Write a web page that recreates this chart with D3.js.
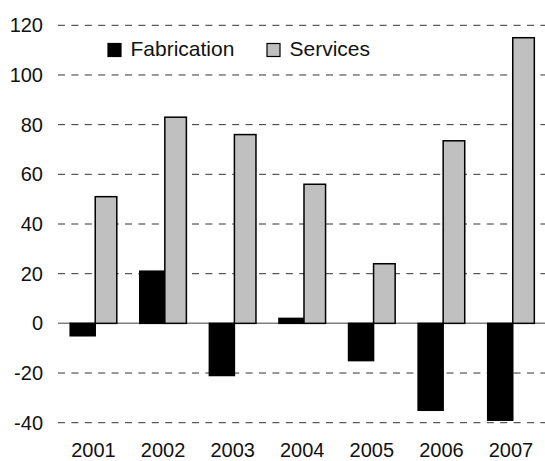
<!DOCTYPE html>
<html>
<head>
<meta charset="utf-8">
<script src="https://cdn.jsdelivr.net/npm/d3@7"></script>
<style>
  html, body { margin: 0; padding: 0; background: #fff; }
  svg { display: block; font-family: "Liberation Sans", Arial, sans-serif; }
</style>
</head>
<body>
<svg id="chart" width="545" height="461"></svg>
<script>
const years = ["2001", "2002", "2003", "2004", "2005", "2006", "2007"];
const fabrication = [-5, 21, -21, 2, -15, -35, -39];
const services = [51, 83, 76, 56, 24, 73.5, 115];
const yTicks = [-40, -20, 0, 20, 40, 60, 80, 100, 120];
const seriesNames = ["Fabrication", "Services"];
const seriesColors = ["#000000", "#c0c0c0"];

const svg = d3.select("#chart");
const W = 545, H = 461;

const x = d3.scaleBand().domain(years).range([58.7, 545.8]).padding(0);
const y = d3.scaleLinear().domain([-40, 120]).range([422.7, 25.3]);
const step = x.step();
const fabOff = step * 0.165, fabW = step * 0.36, srvW = step * 0.31;

// gridlines
svg.append("g").selectAll("line").data(yTicks.filter(d => d !== 0)).join("line")
  .attr("x1", 58).attr("x2", W)
  .attr("y1", d => y(d)).attr("y2", d => y(d))
  .attr("stroke", "#333").attr("stroke-width", 1)
  .attr("stroke-dasharray", "7,6.4");

// zero line
svg.append("line")
  .attr("x1", 58).attr("x2", W)
  .attr("y1", y(0)).attr("y2", y(0))
  .attr("stroke", "#808080").attr("stroke-width", 1.5);

// y tick labels
svg.append("g").selectAll("text").data(yTicks).join("text")
  .attr("x", 43).attr("y", d => y(d)).attr("dy", "0.35em")
  .attr("text-anchor", "end").attr("font-size", 20).attr("fill", "#111")
  .text(d => d);

// x labels
svg.append("g").selectAll("text").data(years).join("text")
  .attr("x", d => x(d) + fabOff + (fabW + srvW) / 2).attr("y", 456.5)
  .attr("text-anchor", "middle").attr("font-size", 20).attr("fill", "#111")
  .text(d => d);

// bars
const bars = svg.append("g");
bars.selectAll("rect.fab").data(years).join("rect").attr("class", "fab")
  .attr("x", d => x(d) + fabOff)
  .attr("width", fabW)
  .attr("y", (d, i) => y(Math.max(0, fabrication[i])))
  .attr("height", (d, i) => Math.abs(y(fabrication[i]) - y(0)))
  .attr("fill", seriesColors[0]).attr("stroke", "#000").attr("stroke-width", 1.5);
bars.selectAll("rect.srv").data(years).join("rect").attr("class", "srv")
  .attr("x", d => x(d) + fabOff + fabW)
  .attr("width", srvW)
  .attr("y", (d, i) => y(Math.max(0, services[i])))
  .attr("height", (d, i) => Math.abs(y(services[i]) - y(0)))
  .attr("fill", seriesColors[1]).attr("stroke", "#000").attr("stroke-width", 1.5);

// legend
const legendX = [108, 267];
const lg = svg.append("g");
seriesNames.forEach((name, i) => {
  lg.append("rect").attr("x", legendX[i]).attr("y", 43.5).attr("width", 13).attr("height", 13)
    .attr("fill", seriesColors[i]).attr("stroke", "#000").attr("stroke-width", 1.2);
  lg.append("text").attr("x", legendX[i] + 22.5).attr("y", 56)
    .attr("font-size", 21).attr("fill", "#111").text(name);
});
</script>
</body>
</html>
